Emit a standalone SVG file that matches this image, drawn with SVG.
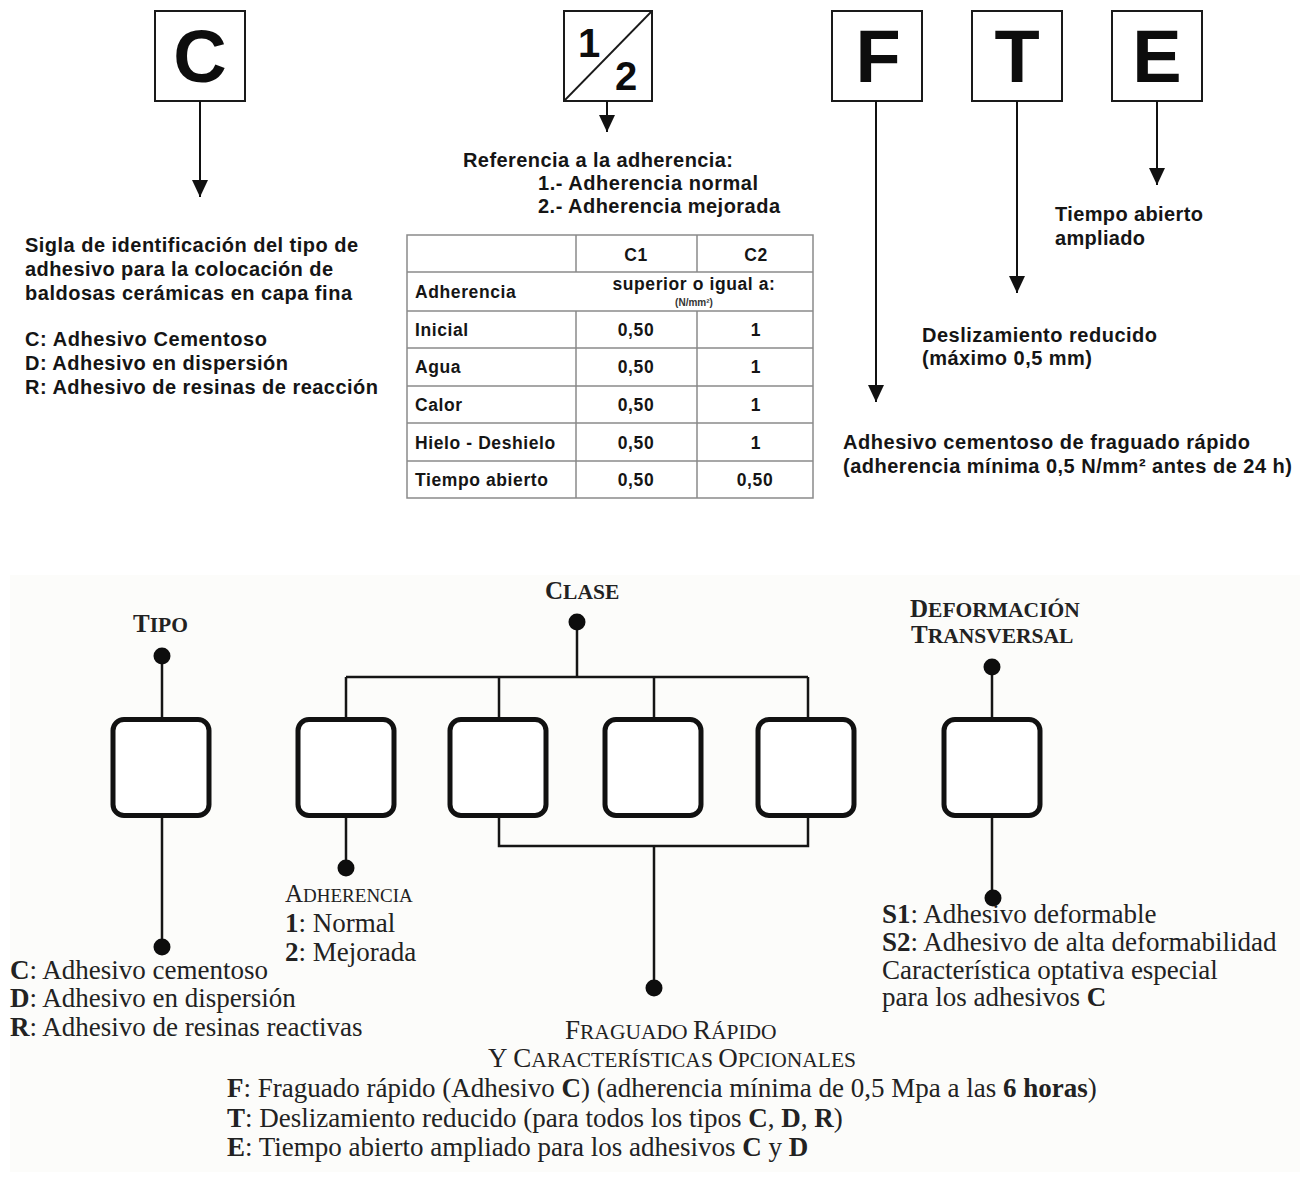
<svg xmlns="http://www.w3.org/2000/svg" width="1304" height="1182" viewBox="0 0 1304 1182">
<style>
.sq{fill:#fff;stroke:#1a1a1a;stroke-width:2}
.big{font-family:"Liberation Sans",Arial,sans-serif;font-weight:bold;font-size:74px;fill:#0d0d0d;text-anchor:middle}
.t{font-family:"Liberation Sans",Arial,sans-serif;font-weight:bold;font-size:20px;fill:#151515}
.tb{font-family:"Liberation Sans",Arial,sans-serif;font-weight:bold;font-size:17.5px;fill:#151515;letter-spacing:0.6px}
.tc{text-anchor:middle}
.grid{stroke:#8a8a8a;stroke-width:1.5;fill:none}
.ar{stroke:#111;stroke-width:2;fill:none}
.cn{stroke:#151515;stroke-width:2.5;fill:none}
.dot{fill:#0d0d0d}
.bx{fill:#fff;stroke:#111;stroke-width:5}
.s{font-family:"Liberation Serif","Times New Roman",serif;font-size:27px;fill:#222}
.h{font-family:"Liberation Serif","Times New Roman",serif;font-weight:bold;fill:#222}
.hr{font-family:"Liberation Serif","Times New Roman",serif;fill:#222}
.b{font-weight:bold}
</style>
<defs>
<marker id="ah" markerUnits="userSpaceOnUse" markerWidth="17" markerHeight="16" viewBox="0 0 17 16" refX="17" refY="8" orient="auto">
<path d="M0,0 L17,8 L0,16 z" fill="#111"/>
</marker>
</defs>
<rect x="0" y="0" width="1304" height="1182" fill="#fff"/>

<!-- TOP: code boxes -->
<g id="box-C"><rect class="sq" x="155" y="11" width="90" height="90"/><text class="big" x="200" y="82">C</text></g>
<g id="box-12"><rect class="sq" x="564" y="11" width="88" height="90"/><line x1="564" y1="101" x2="652" y2="11" stroke="#1a1a1a" stroke-width="1.8"/><text x="589" y="57" font-family="Liberation Sans,Arial,sans-serif" font-weight="bold" font-size="40" fill="#0d0d0d" text-anchor="middle">1</text><text x="626" y="90" font-family="Liberation Sans,Arial,sans-serif" font-weight="bold" font-size="40" fill="#0d0d0d" text-anchor="middle">2</text></g>
<g id="box-F"><rect class="sq" x="832" y="11" width="90" height="90"/><text class="big" x="878" y="82">F</text></g>
<g id="box-T"><rect class="sq" x="972" y="11" width="90" height="90"/><text class="big" x="1017" y="82">T</text></g>
<g id="box-E"><rect class="sq" x="1112" y="11" width="90" height="90"/><text class="big" x="1157" y="82">E</text></g>

<g id="top-connectors">
<line class="ar" x1="200" y1="101" x2="200" y2="197" marker-end="url(#ah)"/>
<line class="ar" x1="607" y1="101" x2="607" y2="132" marker-end="url(#ah)"/>
<line class="ar" x1="876" y1="101" x2="876" y2="402" marker-end="url(#ah)"/>
<line class="ar" x1="1017" y1="101" x2="1017" y2="293" marker-end="url(#ah)"/>
<line class="ar" x1="1157" y1="101" x2="1157" y2="185" marker-end="url(#ah)"/>
</g>

<g id="text-C">
<text class="t" x="25" y="252" textLength="333" lengthAdjust="spacing">Sigla de identificación del tipo de</text>
<text class="t" x="25" y="276" textLength="308" lengthAdjust="spacing">adhesivo para la colocación de</text>
<text class="t" x="25" y="300" textLength="327" lengthAdjust="spacing">baldosas cerámicas en capa fina</text>
<text class="t" x="25" y="346" textLength="242" lengthAdjust="spacing">C: Adhesivo Cementoso</text>
<text class="t" x="25" y="370" textLength="263" lengthAdjust="spacing">D: Adhesivo en dispersión</text>
<text class="t" x="25" y="394" textLength="353" lengthAdjust="spacing">R: Adhesivo de resinas de reacción</text>
</g>
<g id="text-12">
<text class="t" x="463" y="167" textLength="270" lengthAdjust="spacing">Referencia a la adherencia:</text>
<text class="t" x="538" y="190" textLength="220" lengthAdjust="spacing">1.- Adherencia normal</text>
<text class="t" x="538" y="213" textLength="242" lengthAdjust="spacing">2.- Adherencia mejorada</text>
</g>
<g id="text-E">
<text class="t" x="1055" y="221" textLength="148" lengthAdjust="spacing">Tiempo abierto</text>
<text class="t" x="1055" y="245" textLength="90" lengthAdjust="spacing">ampliado</text>
</g>
<g id="text-T">
<text class="t" x="922" y="342" textLength="235" lengthAdjust="spacing">Deslizamiento reducido</text>
<text class="t" x="922" y="365" textLength="170" lengthAdjust="spacing">(máximo 0,5 mm)</text>
</g>
<g id="text-F">
<text class="t" x="843" y="449" textLength="407" lengthAdjust="spacing">Adhesivo cementoso de fraguado rápido</text>
<text class="t" x="843" y="473" textLength="449" lengthAdjust="spacing">(adherencia mínima 0,5 N/mm² antes de 24 h)</text>
</g>

<g id="table">
<rect class="grid" x="407" y="235" width="406" height="263" fill="#fff"/>
<path class="grid" d="M407,272H813 M407,311H813 M407,348H813 M407,386H813 M407,423H813 M407,461H813 M576,235V272 M576,311V498 M697,235V272 M697,311V498"/>
<text class="tb tc" x="636" y="261">C1</text>
<text class="tb tc" x="756" y="261">C2</text>
<text class="tb" x="415" y="298">Adherencia</text>
<text class="tb tc" x="694" y="290">superior o igual a:</text>
<text x="694" y="306" font-family="Liberation Sans,Arial,sans-serif" font-size="10" font-weight="bold" fill="#333" text-anchor="middle">(N/mm²)</text>
<text class="tb" x="415" y="336">Inicial</text>
<text class="tb" x="415" y="373">Agua</text>
<text class="tb" x="415" y="411">Calor</text>
<text class="tb" x="415" y="449">Hielo - Deshielo</text>
<text class="tb" x="415" y="486">Tiempo abierto</text>
<text class="tb tc" x="636" y="336">0,50</text>
<text class="tb tc" x="636" y="373">0,50</text>
<text class="tb tc" x="636" y="411">0,50</text>
<text class="tb tc" x="636" y="449">0,50</text>
<text class="tb tc" x="636" y="486">0,50</text>
<text class="tb tc" x="756" y="336">1</text>
<text class="tb tc" x="756" y="373">1</text>
<text class="tb tc" x="756" y="411">1</text>
<text class="tb tc" x="756" y="449">1</text>
<text class="tb tc" x="755" y="486">0,50</text>
</g>

<!-- BOTTOM -->
<rect x="10" y="575" width="1290" height="597" fill="#fcfcfa"/>

<g id="bottom-connectors">
<path class="cn" d="M162,656V720 M162,816V947"/>
<path class="cn" d="M577,622V677 M346,677H808 M346,677V720 M499,677V720 M654,677V720 M808,677V720"/>
<path class="cn" d="M346,816V868"/>
<path class="cn" d="M499,816V846H808V816 M654,846V988"/>
<path class="cn" d="M992,667V720 M992,816V898"/>
<circle class="dot" cx="162" cy="656" r="8.5"/>
<circle class="dot" cx="162" cy="947" r="8.5"/>
<circle class="dot" cx="577" cy="622" r="8.5"/>
<circle class="dot" cx="346" cy="868" r="8.5"/>
<circle class="dot" cx="654" cy="988" r="8.5"/>
<circle class="dot" cx="992" cy="667" r="8.5"/>
<circle class="dot" cx="993" cy="898" r="8.5"/>
</g>

<g id="tipo">
<text class="h" x="133" y="632"><tspan font-size="25">T</tspan><tspan font-size="21.5">IPO</tspan></text>
<rect class="bx" x="113" y="719.5" width="96" height="96" rx="11"/>
<text class="s" x="10" y="979"><tspan class="b">C</tspan>: Adhesivo cementoso</text>
<text class="s" x="10" y="1007"><tspan class="b">D</tspan>: Adhesivo en dispersión</text>
<text class="s" x="10" y="1036"><tspan class="b">R</tspan>: Adhesivo de resinas reactivas</text>
</g>
<g id="clase">
<text class="h" x="545" y="599"><tspan font-size="25">C</tspan><tspan font-size="21.5">LASE</tspan></text>
</g>
<g id="adherencia">
<rect class="bx" x="298" y="719.5" width="96" height="96" rx="11"/>
<text class="hr" x="285" y="902"><tspan font-size="25">A</tspan><tspan font-size="19">DHERENCIA</tspan></text>
<text class="s" x="285" y="932"><tspan class="b">1</tspan>: Normal</text>
<text class="s" x="285" y="961"><tspan class="b">2</tspan>: Mejorada</text>
</g>
<g id="opcion-1"><rect class="bx" x="450" y="719.5" width="96" height="96" rx="11"/></g>
<g id="opcion-2"><rect class="bx" x="605" y="719.5" width="96" height="96" rx="11"/></g>
<g id="opcion-3"><rect class="bx" x="758" y="719.5" width="96" height="96" rx="11"/></g>
<g id="fraguado">
<text class="hr" x="565" y="1039"><tspan font-size="27">F</tspan><tspan font-size="21.5">RAGUADO </tspan><tspan font-size="27">R</tspan><tspan font-size="21.5">ÁPIDO</tspan></text>
<text class="hr" x="488" y="1067"><tspan font-size="27">Y C</tspan><tspan font-size="21.5">ARACTERÍSTICAS </tspan><tspan font-size="27">O</tspan><tspan font-size="21.5">PCIONALES</tspan></text>
<text class="s" x="227" y="1097"><tspan class="b">F</tspan>: Fraguado rápido (Adhesivo <tspan class="b">C</tspan>) (adherencia mínima de 0,5 Mpa a las <tspan class="b">6 horas</tspan>)</text>
<text class="s" x="227" y="1127"><tspan class="b">T</tspan>: Deslizamiento reducido (para todos los tipos <tspan class="b">C</tspan>, <tspan class="b">D</tspan>, <tspan class="b">R</tspan>)</text>
<text class="s" x="227" y="1156"><tspan class="b">E</tspan>: Tiempo abierto ampliado para los adhesivos <tspan class="b">C</tspan> y <tspan class="b">D</tspan></text>
</g>
<g id="deformacion">
<text class="h" x="910" y="617"><tspan font-size="25">D</tspan><tspan font-size="21.5">EFORMACIÓN</tspan></text>
<text class="h" x="911" y="643"><tspan font-size="25">T</tspan><tspan font-size="21.5">RANSVERSAL</tspan></text>
<rect class="bx" x="944" y="719.5" width="96" height="96" rx="11"/>
<text class="s" x="882" y="923"><tspan class="b">S1</tspan>: Adhesivo deformable</text>
<text class="s" x="882" y="951"><tspan class="b">S2</tspan>: Adhesivo de alta deformabilidad</text>
<text class="s" x="882" y="979">Característica optativa especial</text>
<text class="s" x="882" y="1006">para los adhesivos <tspan class="b">C</tspan></text>
</g>
</svg>
